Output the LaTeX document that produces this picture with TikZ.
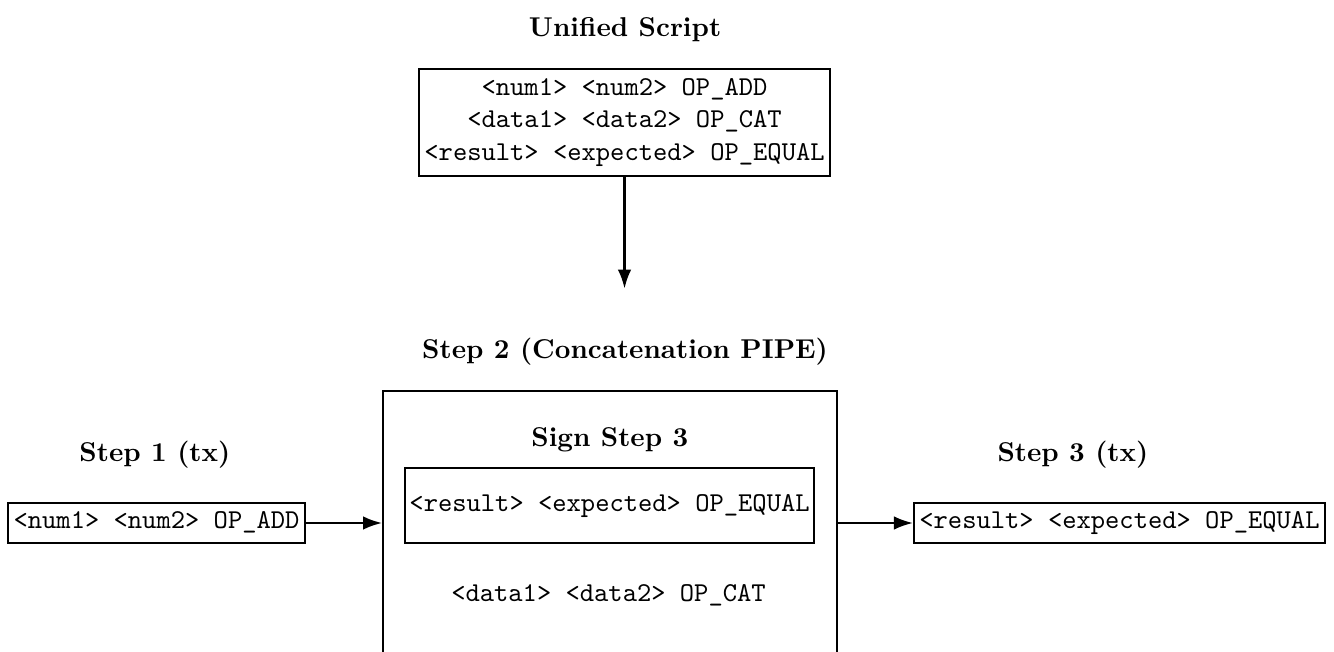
\documentclass[tikz,border=0pt]{standalone}
\usetikzlibrary{positioning,arrows.meta}
\begin{document}
\begin{tikzpicture}[x=1pt,y=1pt,auto]
                    \tikzstyle{every node}=[inner sep=0]
                    \tikzstyle{note}=[font=\bfseries]
                    \tikzstyle{code}=[draw,line width=0.7,font=\ttfamily,inner xsep=2,inner ysep=3,text height=6.5,text depth=2.2]
                    \tikzstyle{script}=[draw,line width=0.7,font=\ttfamily,align=center,inner xsep=2,inner ysep=3.5]
                    \tikzstyle{flow}=[-{Latex[length=7pt,width=5pt]},line width=0.9]
                    \useasboundingbox (0,0) rectangle (490,-239.13);
                    {
                        \node[note] (labelu) at (229.6, -11) {Unified Script};
                        \node[script] (unified) at (229.4, -45)
                            {<num1> <num2> OP\_ADD\\<data1> <data2> OP\_CAT\\<result> <expected> OP\_EQUAL};
                        \coordinate (tip) at (229.4, -106);

                        \node[note] (labelp) at (229.6, -129.3) {Step 2 (Concatenation PIPE)};
                        \node[draw,line width=0.7,minimum width=166.7,minimum height=97] (pipe) at (224.05, -192.1) {};
                        \node[note] (labelsign) at (224, -161.6) {Sign Step 3};
                        \node[code,minimum height=27.8,inner xsep=1.7] (sign) at (223.9, -185.7) {<result> <expected> OP\_EQUAL};
                        \node[font=\ttfamily] (cat) at (223.5, -218.6) {<data1> <data2> OP\_CAT};

                        \node[note] (labels1) at (56.9, -167.1) {Step 1 (tx)};
                        \node[code] (s1) at (57.5, -192.1) {<num1> <num2> OP\_ADD};
                        \node[note] (labels3) at (394.1, -167.1) {Step 3 (tx)};
                        \node[code] (s3) at (411.2, -192.1) {<result> <expected> OP\_EQUAL};

                        \draw[flow] (unified) -- (tip);
                        \draw[flow] (s1.east) -- (s1.east -| pipe.west);
                        \draw[flow] (s3.west -| pipe.east) -- (s3.west);
                    }
                \end{tikzpicture}
\end{document}
